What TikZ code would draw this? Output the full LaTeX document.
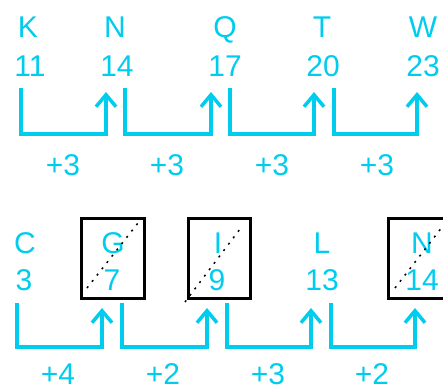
\documentclass[tikz,border=0pt]{standalone}
\usepackage{fontspec}
\setmainfont{Liberation Sans}
\usetikzlibrary{arrows.meta}
\definecolor{seqcyan}{RGB}{0,204,238}
\tikzset{
  term/.style={text=seqcyan,font=\fontsize{30}{32}\selectfont,anchor=base,inner sep=0pt},
  link/.style={draw=seqcyan,line width=3.5pt,-{Straight Barb[length=12pt,width=20pt]}},
  gapbox/.style={draw=black,line width=3pt},
  strike/.style={draw=black,line width=1.5pt,dash pattern=on 2pt off 6pt},
}
\begin{document}
\begin{tikzpicture}[x=1pt,y=-1pt]
  \useasboundingbox (0,0) rectangle (443,390);
  \clip (0,0) rectangle (443,390);
  % first row
  \node[term] (K) at (28,38) {K};
  \node[term] (N) at (115,38) {N};
  \node[term] (Q) at (225,38) {Q};
  \node[term] (T) at (322,38) {T};
  \node[term] (W) at (423,38) {W};
  \node[term] (k11) at (30,77) {11};
  \node[term] (n14) at (117,77) {14};
  \node[term] (q17) at (225,77) {17};
  \node[term] (t20) at (323,77) {20};
  \node[term] (w23) at (423,77) {23};
  \coordinate (a1) at (21,88);  \coordinate (b1) at (106,92);
  \coordinate (a2) at (125,88); \coordinate (b2) at (211,92);
  \coordinate (a3) at (230,88); \coordinate (b3) at (314,92);
  \coordinate (a4) at (334,88); \coordinate (b4) at (417,92);
  \draw[link] (a1) -- ++(0,46) -| (b1);
  \draw[link] (a2) -- ++(0,46) -| (b2);
  \draw[link] (a3) -- ++(0,46) -| (b3);
  \draw[link] (a4) -- ++(0,46) -| (b4);
  \node[term] (d1) at (63,175) {+3};
  \node[term] (d2) at (167,175) {+3};
  \node[term] (d3) at (272,175) {+3};
  \node[term] (d4) at (377,175) {+3};
  % second row
  \draw[gapbox] (81,218) rectangle (144,298);
  \draw[gapbox] (188,218) rectangle (250,298);
  \draw[gapbox] (388,218) rectangle (452,298);
  \node[term] (C) at (25,253) {C};
  \node[term] (G) at (113,253) {G};
  \node[term] (I) at (218,253) {I};
  \node[term] (L) at (322,253) {L};
  \node[term] (Nb) at (422,253) {N};
  \node[term] (c3) at (24,290) {3};
  \node[term] (g7) at (112,290) {7};
  \node[term] (i9) at (217,290) {9};
  \node[term] (l13) at (322,290) {13};
  \node[term] (n14b) at (422,290) {14};
  \draw[strike] (87,288) -- (138,223);
  \draw[strike] (185,302) -- (240,229);
  \draw[strike] (395,288) -- (446,222);
  \coordinate (p1) at (17,303);  \coordinate (q1) at (102,308);
  \coordinate (p2) at (122,303); \coordinate (q2) at (207,308);
  \coordinate (p3) at (227,303); \coordinate (q3) at (311,308);
  \coordinate (p4) at (331,303); \coordinate (q4) at (415,308);
  \draw[link] (p1) -- ++(0,44) -| (q1);
  \draw[link] (p2) -- ++(0,44) -| (q2);
  \draw[link] (p3) -- ++(0,44) -| (q3);
  \draw[link] (p4) -- ++(0,44) -| (q4);
  \node[term] (e1) at (58,384) {+4};
  \node[term] (e2) at (163,384) {+2};
  \node[term] (e3) at (268,384) {+3};
  \node[term] (e4) at (372,384) {+2};
\end{tikzpicture}
\end{document}
